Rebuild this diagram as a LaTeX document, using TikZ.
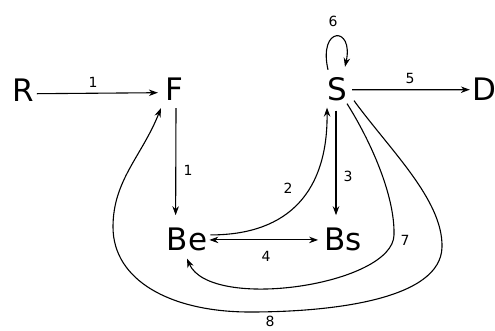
\documentclass[tikz,border=0pt]{standalone}
\usepackage{fontspec}
\newfontfamily\diagfont{DejaVu Sans}
\usetikzlibrary{arrows.meta}
\tikzset{
  big/.style={font=\diagfont\fontsize{31}{36}\selectfont, inner sep=0pt, anchor=base},
  lab/.style={font=\diagfont\fontsize{14}{16}\selectfont, inner sep=0pt},
  arr/.style={line width=1.1pt, -{Stealth[length=9pt,width=6.5pt]}},
  darr/.style={line width=1.1pt, {Stealth[length=9pt,width=6.5pt]}-{Stealth[length=9pt,width=6.5pt]}},
}
\begin{document}
\begin{tikzpicture}[x=1pt,y=-1pt]
\useasboundingbox (0,0) rectangle (495,330);
\fill[white] (0,0) rectangle (495,330);
% states
\node[big] (R) at (23,101) {R};
\node[big] (F) at (174,100) {F};
\node[big] (S) at (337,100) {S};
\node[big] (D) at (484,100) {D};
\node[big] (Be) at (187,250) {Be};
\node[big] (Bs) at (343,250) {Bs};
% straight transitions
\draw[arr] ([xshift=3pt,yshift=-4pt]R.east) -- ([xshift=-7pt,yshift=-4pt]F.west);
\draw[arr] ([xshift=2pt,yshift=-8pt]F.south) -- ([xshift=9pt,yshift=12pt]Be.north west);
\draw[arr] ([xshift=5pt,yshift=-1pt]S.east) -- ([xshift=-2pt,yshift=-1pt]D.west);
\draw[arr] ([xshift=-1pt,yshift=-10pt]S.south) -- ([xshift=-7pt,yshift=12pt]Bs.north);
\draw[darr] ([xshift=2pt,yshift=-1pt]Be.east) -- ([xshift=-6pt,yshift=-1pt]Bs.west);
% self loop
\draw[arr] ([xshift=-9pt,yshift=7pt]S.north) .. controls +(-10,-44) and +(9,-41) .. ([xshift=8pt,yshift=10pt]S.north);
% Be -> S
\draw[arr] ([xshift=3pt,yshift=4pt]Be.east) .. controls (290,235) and (328,190) .. ([xshift=-10pt,yshift=-7pt]S.south);
% S -> Be (7)
\draw[arr] ([xshift=10pt,yshift=-3pt]S.south) .. controls (370,140) and (395,195) .. (394,235)
  .. controls (393,285) and (210,312) .. ([yshift=-8pt]Be.south);
% S -> F (8)
\draw[arr] ([xshift=17pt,yshift=0pt]S.south) .. controls (390,150) and (443,200) .. (442,247)
  .. controls (441,300) and (330,312) .. (250,312)
  .. controls (170,312) and (113,280) .. (113,227)
  .. controls (113,180) and (142,156) .. ([xshift=-4pt,yshift=-8pt]F.south west);
% labels
\node[lab] (l1a) at (93,82) {1};
\node[lab] (l1b) at (188,170) {1};
\node[lab] (l6) at (333,21) {6};
\node[lab] (l5) at (410,78) {5};
\node[lab] (l3) at (348,176) {3};
\node[lab] (l2) at (288,188) {2};
\node[lab] (l4) at (266,256) {4};
\node[lab] (l7) at (405,240) {7};
\node[lab] (l8) at (270,321) {8};
\end{tikzpicture}
\end{document}
